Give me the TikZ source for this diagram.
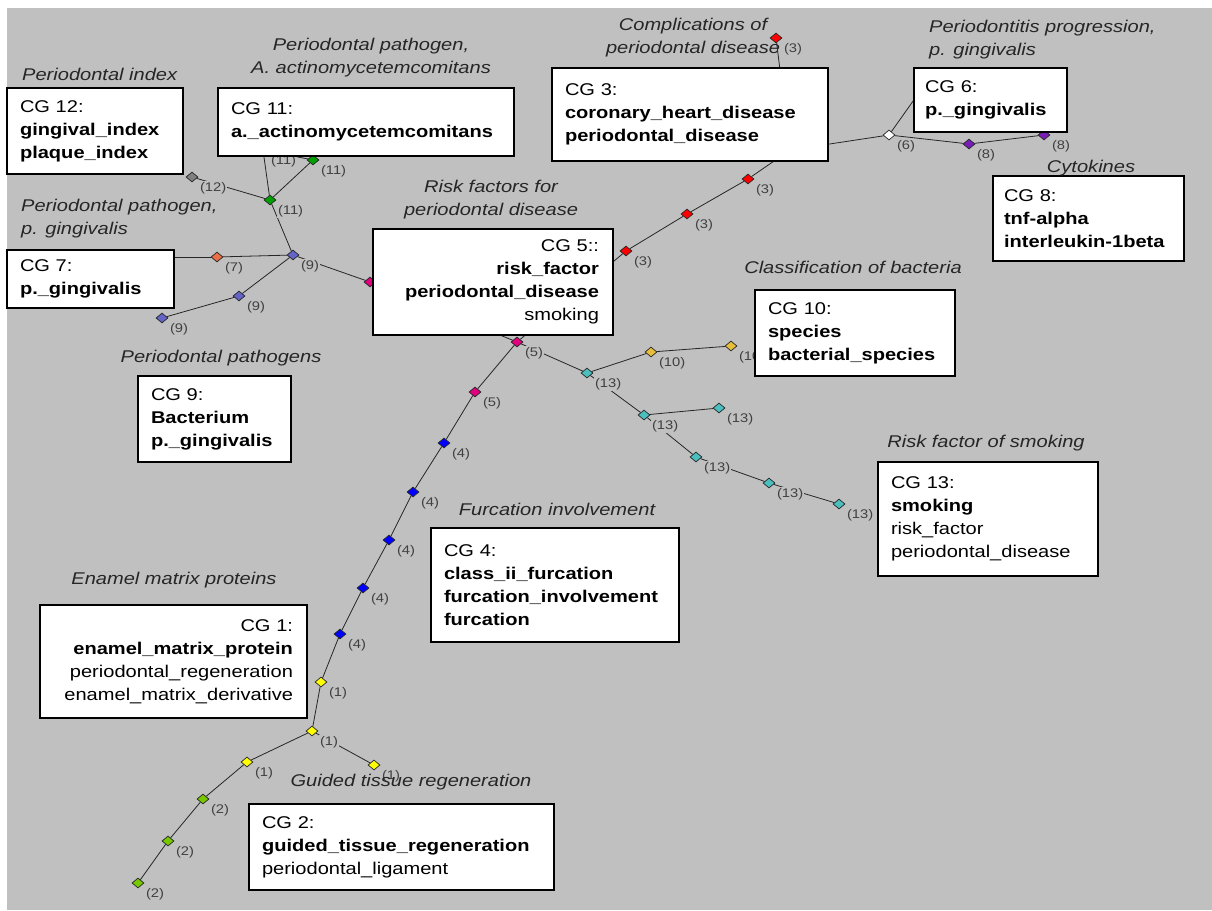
\documentclass[tikz,border=0pt]{standalone}
\usepackage{fontspec}
\setmainfont[FakeStretch=1.18]{Liberation Sans}
\usetikzlibrary{shapes.geometric}
\definecolor{bggray}{RGB}{192,192,192}
\definecolor{cgray}{RGB}{128,128,128}
\definecolor{cgreen}{RGB}{0,160,0}
\definecolor{corange}{RGB}{235,110,70}
\definecolor{cslate}{RGB}{100,100,200}
\definecolor{cmagenta}{RGB}{225,0,125}
\definecolor{cred}{RGB}{255,0,0}
\definecolor{cpurple}{RGB}{120,30,180}
\definecolor{cgold}{RGB}{230,190,60}
\definecolor{ccyan}{RGB}{75,190,190}
\definecolor{cblue}{RGB}{0,0,255}
\definecolor{cyellow}{RGB}{255,255,0}
\definecolor{clime}{RGB}{120,200,0}
\pgfdeclarelayer{back}
\pgfdeclarelayer{edges}
\pgfsetlayers{back,edges,main}
\begin{document}
\begin{tikzpicture}[x=1pt,y=-1pt,
			cgbox/.style 2 args={rectangle, draw=black, fill=white, line width=1.6pt, inner xsep=13pt, inner ysep=0pt, text width=#1, minimum height=#2, align=left, font=\fontsize{17}{23}\selectfont},
			cgdot/.style={diamond, draw=black!85, line width=0.7pt, fill=#1, inner sep=0pt, minimum width=12pt, minimum height=10pt},
			numlabel/.style={fill=bggray, inner sep=0.8pt, text=black!75, font=\fontsize{12.5}{12.5}\selectfont, anchor=west},
			topic/.style={font=\fontsize{17}{23}\selectfont\itshape, text=black!85, align=center, inner sep=0pt},
			link/.style={black!85, line width=0.8pt},
			]

\begin{pgfonlayer}{back}
\useasboundingbox (0,0) rectangle (1212,910);
\fill[white] (0,0) rectangle (1212,910);
\fill[bggray] (7,8) rectangle (1212,910);
\end{pgfonlayer}

\node[cgdot=cgray] (m12) at (192,177) {};
\node[cgdot=cgreen] (a11) at (270,200) {};
\node[cgdot=cgreen] (b11) at (313,160) {};
\node[cgdot=cgreen] (h11) at (263,150) {};
\node[cgdot=cslate] (c9) at (293,255) {};
\node[cgdot=corange] (o7) at (217,257) {};
\node[cgdot=corange] (h7) at (150,257) {};
\node[cgdot=cslate] (d9) at (239,296) {};
\node[cgdot=cslate] (e9) at (162,318) {};
\node[cgdot=cmagenta] (f5) at (370,282) {};
\node[cgdot=cmagenta] (g5) at (517,342) {};
\node[cgdot=cred] (r1) at (626,251) {};
\node[cgdot=cred] (r3) at (687,214) {};
\node[cgdot=cred] (r2) at (748,179) {};
\node[cgdot=cred] (h3) at (790,150) {};
\node[cgdot=cred] (r0) at (776,38) {};
\node[cgdot=white] (w6) at (889,135) {};
\node[cgdot=white] (h6) at (928,80) {};
\node[cgdot=cpurple] (p1) at (969,144) {};
\node[cgdot=cpurple] (p2) at (1044,135) {};
\node[cgdot=ccyan] (t1) at (587,373) {};
\node[cgdot=cgold] (y1) at (651,352) {};
\node[cgdot=cgold] (y2) at (731,346) {};
\node[cgdot=ccyan] (t2) at (644,415) {};
\node[cgdot=ccyan] (t3) at (719,408) {};
\node[cgdot=ccyan] (t4) at (696,457) {};
\node[cgdot=ccyan] (t5) at (769,483) {};
\node[cgdot=ccyan] (t6) at (839,504) {};
\node[cgdot=cmagenta] (g2) at (475,392) {};
\node[cgdot=cblue] (b1) at (444,443) {};
\node[cgdot=cblue] (b2) at (413,492) {};
\node[cgdot=cblue] (b3) at (389,540) {};
\node[cgdot=cblue] (b4) at (363,588) {};
\node[cgdot=cblue] (b5) at (340,634) {};
\node[cgdot=cyellow] (y3) at (321,682) {};
\node[cgdot=cyellow] (y4) at (312,731) {};
\node[cgdot=cyellow] (y5) at (374,765) {};
\node[cgdot=cyellow] (y6) at (247,762) {};
\node[cgdot=clime] (l1) at (203,799) {};
\node[cgdot=clime] (l2) at (168,841) {};
\node[cgdot=clime] (l3) at (138,883) {};

\begin{pgfonlayer}{edges}
\draw[link] (m12) -- (a11);
\draw[link] (a11) -- (h11);
\draw[link] (h11) -- (b11);
\draw[link] (a11) -- (b11);
\draw[link] (a11) -- (c9);
\draw[link] (h7) -- (o7);
\draw[link] (o7) -- (c9);
\draw[link] (c9) -- (d9);
\draw[link] (d9) -- (e9);
\draw[link] (c9) -- (f5);
\draw[link] (f5) -- (g5);
\draw[link] (g5) -- (r1);
\draw[link] (r1) -- (r3);
\draw[link] (r3) -- (r2);
\draw[link] (r2) -- (h3);
\draw[link] (h3) -- (r0);
\draw[link] (h3) -- (w6);
\draw[link] (w6) -- (h6);
\draw[link] (w6) -- (p1);
\draw[link] (p1) -- (p2);
\draw[link] (g5) -- (t1);
\draw[link] (t1) -- (y1);
\draw[link] (y1) -- (y2);
\draw[link] (t1) -- (t2);
\draw[link] (t2) -- (t3);
\draw[link] (t2) -- (t4);
\draw[link] (t4) -- (t5);
\draw[link] (t5) -- (t6);
\draw[link] (g5) -- (g2);
\draw[link] (g2) -- (b1);
\draw[link] (b1) -- (b2);
\draw[link] (b2) -- (b3);
\draw[link] (b3) -- (b4);
\draw[link] (b4) -- (b5);
\draw[link] (b5) -- (y3);
\draw[link] (y3) -- (y4);
\draw[link] (y4) -- (y5);
\draw[link] (y4) -- (y6);
\draw[link] (y6) -- (l1);
\draw[link] (l1) -- (l2);
\draw[link] (l2) -- (l3);
\end{pgfonlayer}

\node[numlabel] (m12n) at ([xshift=7pt,yshift=-11pt]m12.center) {(12)};
\node[numlabel] (a11n) at ([xshift=7pt,yshift=-11pt]a11.center) {(11)};
\node[numlabel] (b11n) at ([xshift=7pt,yshift=-11pt]b11.center) {(11)};
\node[numlabel] (h11n) at ([xshift=7pt,yshift=-11pt]h11.center) {(11)};
\node[numlabel] (c9n) at ([xshift=7pt,yshift=-11pt]c9.center) {(9)};
\node[numlabel] (o7n) at ([xshift=7pt,yshift=-11pt]o7.center) {(7)};
\node[numlabel] (d9n) at ([xshift=7pt,yshift=-11pt]d9.center) {(9)};
\node[numlabel] (e9n) at ([xshift=7pt,yshift=-11pt]e9.center) {(9)};
\node[numlabel] (g5n) at ([xshift=7pt,yshift=-11pt]g5.center) {(5)};
\node[numlabel] (r1n) at ([xshift=7pt,yshift=-11pt]r1.center) {(3)};
\node[numlabel] (r3n) at ([xshift=7pt,yshift=-11pt]r3.center) {(3)};
\node[numlabel] (r2n) at ([xshift=7pt,yshift=-11pt]r2.center) {(3)};
\node[numlabel] (r0n) at ([xshift=7pt,yshift=-11pt]r0.center) {(3)};
\node[numlabel] (w6n) at ([xshift=7pt,yshift=-11pt]w6.center) {(6)};
\node[numlabel] (p1n) at ([xshift=7pt,yshift=-11pt]p1.center) {(8)};
\node[numlabel] (p2n) at ([xshift=7pt,yshift=-11pt]p2.center) {(8)};
\node[numlabel] (t1n) at ([xshift=7pt,yshift=-11pt]t1.center) {(13)};
\node[numlabel] (y1n) at ([xshift=7pt,yshift=-11pt]y1.center) {(10)};
\node[numlabel] (y2n) at ([xshift=7pt,yshift=-11pt]y2.center) {(10)};
\node[numlabel] (t2n) at ([xshift=7pt,yshift=-11pt]t2.center) {(13)};
\node[numlabel] (t3n) at ([xshift=7pt,yshift=-11pt]t3.center) {(13)};
\node[numlabel] (t4n) at ([xshift=7pt,yshift=-11pt]t4.center) {(13)};
\node[numlabel] (t5n) at ([xshift=7pt,yshift=-11pt]t5.center) {(13)};
\node[numlabel] (t6n) at ([xshift=7pt,yshift=-11pt]t6.center) {(13)};
\node[numlabel] (g2n) at ([xshift=7pt,yshift=-11pt]g2.center) {(5)};
\node[numlabel] (b1n) at ([xshift=7pt,yshift=-11pt]b1.center) {(4)};
\node[numlabel] (b2n) at ([xshift=7pt,yshift=-11pt]b2.center) {(4)};
\node[numlabel] (b3n) at ([xshift=7pt,yshift=-11pt]b3.center) {(4)};
\node[numlabel] (b4n) at ([xshift=7pt,yshift=-11pt]b4.center) {(4)};
\node[numlabel] (b5n) at ([xshift=7pt,yshift=-11pt]b5.center) {(4)};
\node[numlabel] (y3n) at ([xshift=7pt,yshift=-11pt]y3.center) {(1)};
\node[numlabel] (y4n) at ([xshift=7pt,yshift=-11pt]y4.center) {(1)};
\node[numlabel] (y5n) at ([xshift=7pt,yshift=-11pt]y5.center) {(1)};
\node[numlabel] (y6n) at ([xshift=7pt,yshift=-11pt]y6.center) {(1)};
\node[numlabel] (l1n) at ([xshift=7pt,yshift=-11pt]l1.center) {(2)};
\node[numlabel] (l2n) at ([xshift=7pt,yshift=-11pt]l2.center) {(2)};
\node[numlabel] (l3n) at ([xshift=7pt,yshift=-11pt]l3.center) {(2)};

\node[cgbox={150pt}{86}] (cg12) at (95,131) {CG 12:\\\textbf{gingival\_index}\\\textbf{plaque\_index}};
\node[cgbox={270pt}{68}] (cg11) at (366,122) {CG 11:\\\textbf{a.\_actinomycetemcomitans}};
\node[cgbox={250pt}{93}] (cg3) at (690,114.5) {CG 3:\\\textbf{coronary\_heart\_disease}\\\textbf{periodontal\_disease}};
\node[cgbox={131pt}{64}, inner xsep=11pt] (cg6) at (990.5,100) {CG 6:\\\textbf{p.\_gingivalis}};
\node[cgbox={169pt}{85}, inner xsep=11pt] (cg8) at (1088.5,218.5) {CG 8:\\\textbf{tnf-alpha}\\\textbf{interleukin-1beta}};
\node[cgbox={141pt}{58}] (cg7) at (90.5,279) {CG 7:\\\textbf{p.\_gingivalis}};
\fill[white] (8.5,298.5) rectangle (172.5,307);
\node[cgbox={212pt}{106}, align=right, inner xsep=14pt] (cg5) at (493,282) {CG 5::\\\textbf{risk\_factor}\\\textbf{periodontal\_disease}\\smoking};
\fill[white] (374.5,326.5) rectangle (611.5,334);
\node[cgbox={174pt}{86}] (cg10) at (855,333) {CG 10:\\\textbf{species}\\\textbf{bacterial\_species}};
\node[cgbox={127pt}{86}] (cg9) at (214.5,419) {CG 9:\\\textbf{Bacterium}\\\textbf{p.\_gingivalis}};
\node[cgbox={194pt}{114}] (cg13) at (988,519) {CG 13:\\\textbf{smoking}\\risk\_factor\\periodontal\_disease};
\node[cgbox={222pt}{114}] (cg4) at (555,585) {CG 4:\\\textbf{class\_ii\_furcation}\\\textbf{furcation\_involvement}\\\textbf{furcation}};
\node[cgbox={239pt}{113}, align=right, inner xsep=14pt] (cg1) at (173.5,661.5) {CG 1:\\\textbf{enamel\_matrix\_protein}\\periodontal\_regeneration\\enamel\_matrix\_derivative};
\node[cgbox={279pt}{86}] (cg2) at (401.5,847) {CG 2:\\\textbf{guided\_tissue\_regeneration}\\periodontal\_ligament};

\node[topic, anchor=west] (t12) at (22,74) {Periodontal index};
\node[topic] (t11) at (371,58) {Periodontal pathogen,\\A. actinomycetemcomitans};
\node[topic] (t3) at (693,38) {Complications of\\periodontal disease};
\node[topic, anchor=west, align=left] (t6) at (929,39.5) {Periodontitis progression,\\p. gingivalis};
\node[topic] (t8) at (1091,168) {Cytokines};
\node[topic] (t5) at (491,199.5) {Risk factors for\\periodontal disease};
\node[topic, anchor=west, align=left] (t7) at (21,219) {Periodontal pathogen,\\p. gingivalis};
\node[topic] (t9) at (221,358) {Periodontal pathogens};
\node[topic] (t10) at (853,267) {Classification of bacteria};
\node[topic] (t13) at (986,443) {Risk factor of smoking};
\node[topic] (t4) at (557,509) {Furcation involvement};
\node[topic] (t1) at (174,580) {Enamel matrix proteins};
\node[topic] (t2) at (411,782) {Guided tissue regeneration};

\end{tikzpicture}
\end{document}
